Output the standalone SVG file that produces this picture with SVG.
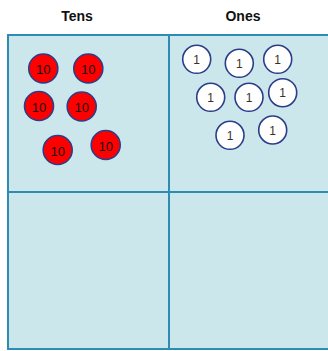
<svg xmlns="http://www.w3.org/2000/svg" width="328" height="351" viewBox="0 0 328 351">
<style>
.cell{fill:#cbe7ec;stroke:#2e8bb3;stroke-width:2}
.hdr{font-family:"Liberation Sans",Arial,sans-serif;font-weight:bold;font-size:14px;fill:#111;text-anchor:middle}
.ten circle{fill:#ff0000;stroke:#2b3c88;stroke-width:1.6}
.ten text{font-family:"Liberation Sans",Arial,sans-serif;font-size:13px;fill:#111;text-anchor:middle}
.one circle{fill:#ffffff;stroke:#2b3c88;stroke-width:1.6}
.one text{font-family:"Liberation Sans",Arial,sans-serif;font-size:12px;fill:#3a3028;text-anchor:middle}
</style>
<rect width="328" height="351" fill="#ffffff"/>
<g id="grid">
<rect class="cell" x="8" y="35" width="161" height="157"/>
<rect class="cell" x="169" y="35" width="165" height="157"/>
<rect class="cell" x="8" y="192" width="161" height="157"/>
<rect class="cell" x="169" y="192" width="165" height="157"/>
</g>
<g id="headers">
<text class="hdr" x="77" y="21">Tens</text>
<text class="hdr" x="243" y="21">Ones</text>
</g>
<g id="tens">
<g id="t1" class="ten"><circle cx="43.3" cy="68.5" r="14.5"/><text x="43.3" y="74">10</text></g>
<g id="t2" class="ten"><circle cx="88.3" cy="68.5" r="14.5"/><text x="88.3" y="74">10</text></g>
<g id="t3" class="ten"><circle cx="39" cy="106" r="14.5"/><text x="39" y="111.5">10</text></g>
<g id="t4" class="ten"><circle cx="81.7" cy="106.5" r="14.5"/><text x="81.7" y="112">10</text></g>
<g id="t5" class="ten"><circle cx="57.7" cy="150" r="14.5"/><text x="57.7" y="155.5">10</text></g>
<g id="t6" class="ten"><circle cx="105.7" cy="145" r="14.5"/><text x="105.7" y="150.5">10</text></g>
</g>
<g id="ones">
<g id="o1" class="one"><circle cx="196.7" cy="59.3" r="14"/><text x="196.7" y="64">1</text></g>
<g id="o2" class="one"><circle cx="239.3" cy="63.3" r="14"/><text x="239.3" y="68">1</text></g>
<g id="o3" class="one"><circle cx="277.7" cy="59.3" r="14"/><text x="277.7" y="64">1</text></g>
<g id="o4" class="one"><circle cx="210.7" cy="97.3" r="14"/><text x="210.7" y="102">1</text></g>
<g id="o5" class="one"><circle cx="249" cy="97.3" r="14"/><text x="249" y="102">1</text></g>
<g id="o6" class="one"><circle cx="282.7" cy="92.7" r="14"/><text x="282.7" y="97.4">1</text></g>
<g id="o7" class="one"><circle cx="230" cy="135.3" r="14"/><text x="230" y="140">1</text></g>
<g id="o8" class="one"><circle cx="272.7" cy="130" r="14"/><text x="272.7" y="134.7">1</text></g>
</g>
</svg>
